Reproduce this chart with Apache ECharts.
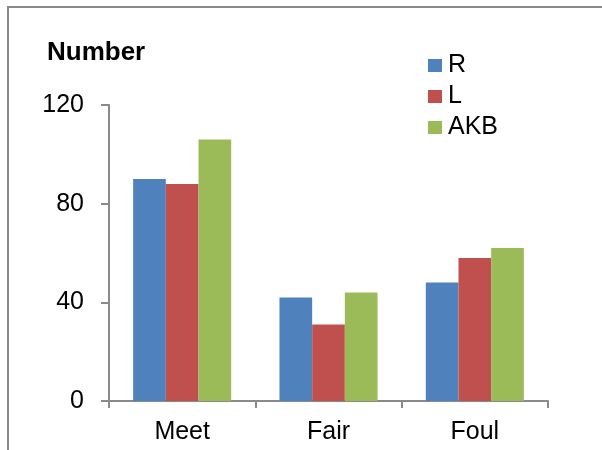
<!DOCTYPE html>
<html>
<head>
<meta charset="utf-8">
<script src="https://cdn.jsdelivr.net/npm/echarts@6/dist/echarts.min.js"></script>
<style>
  html, body { margin: 0; padding: 0; background: #fff; }
  #chart { width: 602px; height: 450px; }
</style>
</head>
<body>
<div id="chart"></div>
<script>
// data
var categories = ['Meet', 'Fair', 'Foul'];
var seriesR = [90, 42, 48];
var seriesL = [88, 31, 58];
var seriesAKB = [106, 44, 62];
var yTicks = [0, 40, 80, 120];

var font = 'Liberation Sans, Arial, sans-serif';
var axisGray = '#8a8a8a';

var chart = echarts.init(document.getElementById('chart'));

chart.setOption({
  animation: false,
  color: ['#4F81BD', '#C0504D', '#9BBB59'],
  graphic: [{
    type: 'rect',
    shape: { x: 8, y: 7, width: 700, height: 600 },
    style: { fill: 'none', stroke: '#8a8a8a', lineWidth: 2 },
    silent: true
  }],
  title: {
    text: 'Number',
    left: 47,
    top: 40,
    padding: 0,
    textStyle: { fontFamily: font, fontSize: 26, fontWeight: 'bold', color: '#000' }
  },
  legend: {
    orient: 'vertical',
    left: 428,
    top: 53,
    padding: 0,
    itemWidth: 14,
    itemHeight: 13,
    itemGap: 6,
    icon: 'rect',
    textStyle: { fontFamily: font, fontSize: 25, color: '#000', padding: [0, 0, 0, 1] },
    data: ['R', 'L', 'AKB']
  },
  grid: { left: 109, right: 54, top: 105, bottom: 49 },
  xAxis: {
    type: 'category',
    data: categories,
    axisLine: { lineStyle: { color: axisGray, width: 2 } },
    axisTick: { show: true, length: 7, lineStyle: { color: axisGray, width: 2 } },
    axisLabel: { fontFamily: font, fontSize: 25, color: '#000', margin: 19 }
  },
  yAxis: {
    type: 'value',
    min: yTicks[0],
    max: yTicks[yTicks.length - 1],
    interval: yTicks[1] - yTicks[0],
    splitLine: { show: false },
    axisLine: { show: true, lineStyle: { color: axisGray, width: 2 } },
    axisTick: { show: true, length: 8, lineStyle: { color: axisGray, width: 2 } },
    axisLabel: { fontFamily: font, fontSize: 25, color: '#000', margin: 25 }
  },
  series: [
    { name: 'R', type: 'bar', data: seriesR, barGap: '0%', barCategoryGap: '33%' },
    { name: 'L', type: 'bar', data: seriesL, barGap: '0%', barCategoryGap: '33%' },
    { name: 'AKB', type: 'bar', data: seriesAKB, barGap: '0%', barCategoryGap: '33%' }
  ]
});
</script>
</body>
</html>
